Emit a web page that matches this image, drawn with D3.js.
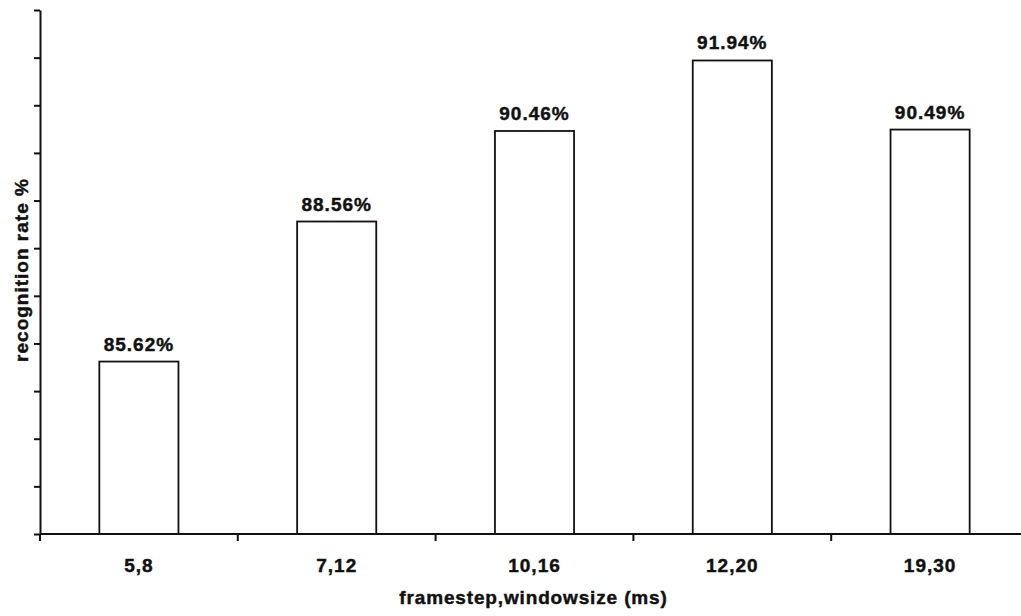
<!DOCTYPE html>
<html>
<head>
<meta charset="utf-8">
<script src="https://cdn.jsdelivr.net/npm/d3@7"></script>
<style>
  html, body { margin: 0; padding: 0; background: #fff; }
  svg { display: block; }
  text { font-family: "Liberation Sans", Arial, Helvetica, sans-serif; font-weight: bold; fill: #111; stroke: #111; stroke-width: 0.45px; }
</style>
</head>
<body>
<svg id="chart" width="1021" height="616"></svg>
<script>
// Recognition rate for each framestep / window size setting
const categories = ["5,8", "7,12", "10,16", "12,20", "19,30"];
const rates = [85.62, 88.56, 90.46, 91.94, 90.49];
const rateLabels = ["85.62%", "88.56%", "90.46%", "91.94%", "90.49%"];
const yTickValues = [82, 83, 84, 85, 86, 87, 88, 89, 90, 91, 92, 93];

(function () {
  const W = 1021;
  const plotLeft = 40, plotBottom = 534, plotTop = 10, plotRight = 1029;
  const ink = "#111";
  const fontSize = 19, spacing = 1;

  const svg = d3.select("#chart");

  const x = d3.scaleBand()
    .domain(categories)
    .range([plotLeft, plotRight])
    .paddingInner(0.6)
    .paddingOuter(0.3);

  const y = d3.scaleLinear()
    .domain([yTickValues[0], yTickValues[yTickValues.length - 1]])
    .range([plotBottom, plotTop]);

  // Bars
  svg.append("g")
    .selectAll("rect")
    .data(categories)
    .join("rect")
    .attr("x", d => x(d))
    .attr("y", (d, i) => y(rates[i]))
    .attr("width", x.bandwidth())
    .attr("height", (d, i) => plotBottom - y(rates[i]))
    .attr("fill", "#fff")
    .attr("stroke", ink)
    .attr("stroke-width", 1.8);

  // Value labels above bars
  svg.append("g")
    .selectAll("text")
    .data(categories)
    .join("text")
    .attr("x", d => x(d) + x.bandwidth() / 2)
    .attr("y", (d, i) => y(rates[i]) - 11)
    .attr("text-anchor", "middle")
    .attr("font-size", fontSize)
    .attr("letter-spacing", spacing)
    .text((d, i) => rateLabels[i]);

  // Y axis: unlabeled ticks every 1%
  const yAxis = svg.append("g")
    .attr("transform", `translate(${plotLeft},0)`)
    .call(d3.axisLeft(y).tickValues(yTickValues).tickSize(6).tickSizeOuter(0).tickFormat(""));
  yAxis.select(".domain").attr("stroke", ink).attr("stroke-width", 2);
  yAxis.selectAll(".tick line").attr("stroke", ink).attr("stroke-width", 2);

  // X axis baseline and boundary ticks between categories
  svg.append("line")
    .attr("x1", plotLeft).attr("x2", W)
    .attr("y1", plotBottom).attr("y2", plotBottom)
    .attr("stroke", ink).attr("stroke-width", 2);

  const half = x.step() * x.paddingInner() / 2;
  const boundaries = categories.map(c => x(c) - half);
  svg.append("g")
    .selectAll("line")
    .data(boundaries)
    .join("line")
    .attr("x1", d => d).attr("x2", d => d)
    .attr("y1", plotBottom).attr("y2", plotBottom + 7)
    .attr("stroke", ink).attr("stroke-width", 2);

  // Category labels
  const xAxis = svg.append("g")
    .attr("transform", `translate(0,${plotBottom})`)
    .call(d3.axisBottom(x).tickSize(0).tickPadding(0));
  xAxis.select(".domain").remove();
  xAxis.attr("font-family", null).attr("font-size", null);
  xAxis.selectAll(".tick text")
    .attr("y", 38)
    .attr("dy", null)
    .attr("font-size", fontSize)
    .attr("letter-spacing", spacing)
    .attr("fill", ink);

  // Axis titles
  svg.append("text")
    .attr("x", (plotLeft + plotRight) / 2 - 1)
    .attr("y", 604)
    .attr("text-anchor", "middle")
    .attr("font-size", fontSize)
    .attr("letter-spacing", 0.85)
    .text("framestep,windowsize (ms)");

  svg.append("text")
    .attr("transform", "translate(28,270) rotate(-90)")
    .attr("text-anchor", "middle")
    .attr("font-size", fontSize)
    .attr("letter-spacing", spacing)
    .text("recognition rate %");
})();
</script>
</body>
</html>
